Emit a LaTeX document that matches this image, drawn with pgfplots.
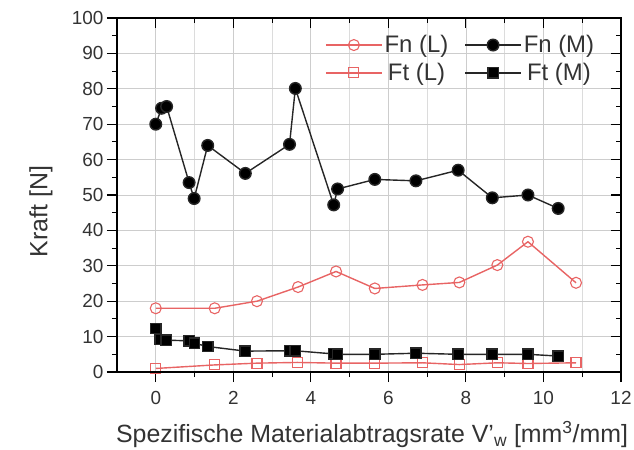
\documentclass[border=0pt]{standalone}
\usepackage{fontspec}
\setmainfont{Liberation Sans}
\usepackage{pgfplots}
\pgfplotsset{compat=1.18}
\usepackage{pgfplotstable}

\definecolor{lred}{RGB}{232,100,100}
\definecolor{gridc}{RGB}{205,205,205}

\pgfplotstableread{
x y
0 18.0
1.52 18.0
2.61 20.0
3.67 24.0
4.65 28.4
5.65 23.6
6.88 24.6
7.83 25.3
8.81 30.2
9.60 36.8
10.84 25.2
}\fnL

\pgfplotstableread{
x y
0 70.0
0.15 74.5
0.28 75.0
0.86 53.5
0.99 49.0
1.34 64.0
2.31 56.1
3.45 64.3
3.60 80.1
4.59 47.2
4.69 51.7
5.65 54.4
6.71 54.0
7.80 57.0
8.68 49.2
9.60 50.0
10.38 46.2
}\fnM

\pgfplotstableread{
x y
0 1.0
1.52 2.0
2.61 2.5
3.65 2.7
4.65 2.5
5.65 2.5
6.88 2.6
7.83 2.1
8.81 2.6
9.60 2.4
10.84 2.6
}\ftL

\pgfplotstableread{
x y
0 12.3
0.11 9.2
0.27 9.0
0.86 8.8
1.00 8.1
1.34 7.2
2.31 5.9
3.45 6.0
3.60 6.0
4.59 5.1
4.69 5.0
5.65 5.0
6.71 5.3
7.80 5.0
8.68 5.0
9.60 5.0
10.38 4.5
}\ftM

\pgfplotsset{
  common/.style={
    scale only axis,
    width=504bp, height=354bp,
    xmin=-1, xmax=12, ymin=0, ymax=100,
    xtick={0,2,...,12}, ytick={0,10,...,100},
    minor x tick num=1, minor y tick num=1,
    major tick length=10bp, minor tick length=5bp,
    axis line style={line width=1.3bp},
    every tick/.style={black, line width=1.1bp},
  },
}

\begin{document}
\begin{tikzpicture}
\begin{axis}[
    common,
    name=ax,
    tick align=outside,
    xtick pos=bottom, ytick pos=left,
    xmajorgrids, xminorgrids, ymajorgrids,
    major grid style={gridc, line width=0.8bp},
    minor grid style={gridc!70, line width=0.8bp},
    /pgf/number format/assume math mode=true,
    tick label style={font=\fontsize{19}{21}\selectfont, text=black!80},
    xticklabel style={yshift=-6bp},
    xlabel={Spezifische Materialabtragsrate V'\textsubscript{w} [mm\textsuperscript{3}/mm]},
    ylabel={Kraft [N]},
    label style={font=\fontsize{25}{28}\selectfont, text=black!80},
    xlabel style={at={(axis description cs:0.506,-0.2)}, anchor=base},
    ylabel style={at={(axis description cs:-0.151,0.453)}, anchor=center},
    legend columns=2,
    legend style={draw=none, fill=none, at={(axis description cs:0.957,0.962)}, anchor=north east,
      font=\fontsize{24}{26}\selectfont, text=black!80,
      /tikz/every even column/.append style={column sep=14bp},
      row sep=5bp},
    legend image code/.code={
      \draw[mark repeat=2, mark phase=2] plot coordinates {(0bp,0bp) (28bp,0bp) (56bp,0bp)};
    },
]
\addplot[lred, line width=1.4bp, mark=o, mark size=5.5bp, mark options={fill=white, line width=1.1bp}] table {\fnL};
\addlegendentry{Fn (L)}
\addplot[black!85, line width=1.4bp, mark=*, mark size=5.8bp, mark options={fill=black}] table {\fnM};
\addlegendentry{Fn (M)}
\addplot[lred, line width=1.4bp, mark=square, mark size=5bp, mark options={fill=white, line width=1.1bp}] table {\ftL};
\addlegendentry{Ft (L)}
\addplot[black!85, line width=1.4bp, mark=square*, mark size=5.2bp, mark options={fill=black}] table {\ftM};
\addlegendentry{Ft (M)}
\end{axis}
\begin{axis}[
    common,
    tick align=inside,
    xtick pos=top, ytick pos=right,
    xticklabels={}, yticklabels={},
]
\end{axis}
\pgfresetboundingbox
\path[use as bounding box] ([xshift=-117bp,yshift=-78bp]ax.south west) rectangle ([xshift=13bp,yshift=18bp]ax.north east);
\end{tikzpicture}
\end{document}
